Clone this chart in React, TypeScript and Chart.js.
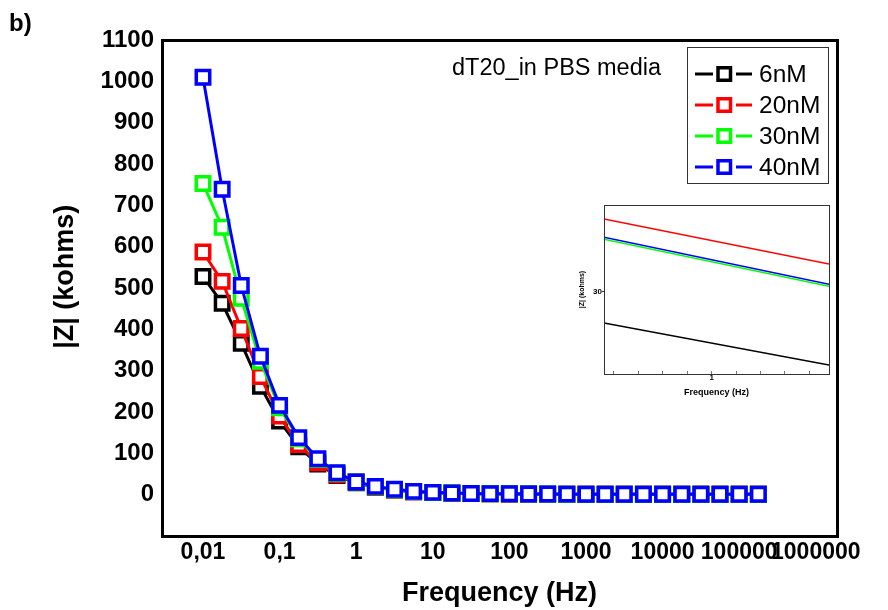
import React, { useEffect, useRef } from 'react';
import { Chart, registerables } from 'chart.js';

Chart.register(...registerables);

const FONT = '"Liberation Sans", Arial, Helvetica, sans-serif';

// ---------- main chart data ----------
const frequencies = [
  0.01, 0.0178, 0.0316, 0.0562, 0.1, 0.178, 0.316, 0.562, 1, 1.78,
  3.16, 5.62, 10, 17.8, 31.6, 56.2, 100, 178, 316, 562,
  1000, 1780, 3160, 5620, 10000, 17800, 31600, 56200, 100000, 178000,
];
const seriesLabels = ['6nM', '20nM', '30nM', '40nM'];
const seriesColors = ['#000000', '#ff0000', '#00ff00', '#0000ff'];
const z6nM = [
  528, 463, 366, 262, 178, 116, 74, 46, 28.7, 18,
  11, 7, 5, 3.5, 2.5, 2, 1.8, 1.5, 1.3, 1.2,
  1.1, 1, 1, 1, 1, 1, 1, 1, 1, 1,
];
const z20nM = [
  587, 516, 402, 286, 190, 121, 77, 48, 31.2, 18.5,
  11.5, 7, 5, 3.5, 2.5, 2, 1.8, 1.5, 1.3, 1.2,
  1.1, 1, 1, 1, 1, 1, 1, 1, 1, 1,
];
const z30nM = [
  753, 647, 475, 323, 210, 135, 85, 52, 30.7, 19,
  12, 7.5, 5, 4, 3, 2.3, 2, 1.6, 1.4, 1.2,
  1.1, 1, 1, 1, 1, 1, 1, 1, 1, 1,
];
const z40nM = [
  1010, 739, 506, 335, 216, 138, 87, 53, 30.8, 20,
  13, 8, 5.5, 4, 3, 2.5, 2, 1.7, 1.5, 1.3,
  1.2, 1.1, 1, 1, 1, 1, 1, 1, 1, 1,
];
const seriesValues = [z6nM, z20nM, z30nM, z40nM];

const xTickValues = [0.01, 0.1, 1, 10, 100, 1000, 10000, 100000, 1000000];
const xTickLabels = ['0,01', '0,1', '1', '10', '100', '1000', '10000', '100000', '1000000'];
const yTickValues = [0, 100, 200, 300, 400, 500, 600, 700, 800, 900, 1000, 1100];

const panelLabel = 'b)';
const annotationText = 'dT20_in PBS media';

// ---------- inset data ----------
const insetFreq = [0.89, 1.12];
const insetZ6 = [29.24, 28.22];
const insetZ20 = [31.76, 30.67];
const insetZ30 = [31.27, 30.13];
const insetZ40 = [31.32, 30.18];
const insetValues = [insetZ6, insetZ20, insetZ30, insetZ40];
const insetXTickValues = [0.9, 0.925, 0.95, 0.975, 1, 1.025, 1.05, 1.075, 1.1];
const insetYTickValues = [30];

const framePlugin = (width: number, color: string) => ({
  id: 'frame',
  afterDraw(chart: any) {
    const { ctx, chartArea } = chart;
    const { left, top, right, bottom } = chartArea;
    ctx.save();
    ctx.lineWidth = width;
    ctx.strokeStyle = color;
    const off = width % 2 === 1 ? 0.5 : 0;
    ctx.strokeRect(left + off, top + off, right - left, bottom - top);
    ctx.restore();
  },
});

const annotationPlugin = {
  id: 'annotations',
  afterDraw(chart: any) {
    const ctx = chart.ctx;
    ctx.save();
    ctx.fillStyle = '#000';
    ctx.font = `bold 24px ${FONT}`;
    ctx.textBaseline = 'alphabetic';
    ctx.textAlign = 'left';
    ctx.fillText(panelLabel, 9, 31);
    ctx.font = `23.5px ${FONT}`;
    ctx.textBaseline = 'middle';
    ctx.fillText(annotationText, 452, 69);

    // legend box
    const bx = 687, by = 47, bw = 141, bh = 136;
    ctx.fillStyle = '#fff';
    ctx.fillRect(bx, by, bw, bh);
    ctx.lineWidth = 1;
    ctx.strokeStyle = '#333';
    ctx.strokeRect(bx + 0.5, by + 0.5, bw, bh);
    chart.data.datasets.forEach((ds: any, i: number) => {
      const y = 74 + i * 31;
      ctx.strokeStyle = ds.borderColor;
      ctx.lineWidth = 3;
      ctx.beginPath();
      ctx.moveTo(695, y);
      ctx.lineTo(713, y);
      ctx.moveTo(736, y);
      ctx.lineTo(752, y);
      ctx.stroke();
      ctx.fillStyle = '#fff';
      ctx.fillRect(718, y - 6.25, 12.5, 12.5);
      ctx.lineWidth = 3.5;
      ctx.strokeRect(718, y - 6.25, 12.5, 12.5);
      ctx.fillStyle = '#000';
      ctx.font = `24.5px ${FONT}`;
      ctx.textBaseline = 'middle';
      ctx.fillText(ds.label, 759, y + 1);
    });
    ctx.restore();
  },
};

function MainChart() {
  const ref = useRef<HTMLCanvasElement>(null);
  useEffect(() => {
    const datasets = seriesLabels.map((label, s) => ({
      label,
      data: frequencies.map((f, i) => ({ x: f, y: seriesValues[s][i] })),
      borderColor: seriesColors[s],
      backgroundColor: seriesColors[s],
      borderWidth: 3,
      pointStyle: 'rect',
      pointRadius: 9.5,
      pointBorderWidth: 3.5,
      pointBackgroundColor: '#ffffff',
      pointBorderColor: seriesColors[s],
      tension: 0,
      order: seriesLabels.length - s,
    }));
    const chart = new Chart(ref.current as HTMLCanvasElement, {
      type: 'line',
      data: { datasets } as any,
      options: {
        responsive: false,
        animation: false,
        layout: { padding: { left: 0, top: 40, right: 51, bottom: 0 } },
        plugins: { legend: { display: false }, tooltip: { enabled: false } },
        scales: {
          x: {
            type: 'logarithmic',
            min: 0.002917,
            max: 1.892e6,
            afterBuildTicks: (s: any) => {
              s.ticks = xTickValues.map((v) => ({ value: v }));
            },
            afterFit: (s: any) => {
              s.height = 74;
            },
            grid: { display: false, drawTicks: false },
            border: { display: false },
            ticks: {
              autoSkip: false,
              maxRotation: 0,
              minRotation: 0,
              padding: 3,
              color: '#000',
              font: { family: FONT, size: 23, weight: 'bold' },
              callback: (_v: any, i: number) => xTickLabels[i],
            },
            title: {
              display: true,
              text: 'Frequency (Hz)',
              color: '#000',
              font: { family: FONT, size: 27, weight: 'bold' },
              padding: { top: 0, bottom: 0 },
            },
          },
          y: {
            type: 'linear',
            min: -100,
            max: 1100,
            afterBuildTicks: (s: any) => {
              s.ticks = yTickValues.map((v) => ({ value: v }));
            },
            afterFit: (s: any) => {
              s.width = 162;
            },
            grid: { display: false, drawTicks: false },
            border: { display: false },
            ticks: {
              padding: 8,
              color: '#000',
              font: { family: FONT, size: 24, weight: 'bold' },
              callback: (v: any) => String(v),
            },
            title: {
              display: true,
              text: '   |Z| (kohms)',
              color: '#000',
              font: { family: FONT, size: 27, weight: 'bold' },
              padding: { top: 49, bottom: 0 },
            },
          },
        },
      } as any,
      plugins: [framePlugin(3, '#000'), annotationPlugin],
    });
    return () => chart.destroy();
  }, []);
  return <canvas ref={ref} width={888} height={610} style={{ position: 'absolute', left: 0, top: 0 }} />;
}

function InsetChart() {
  const ref = useRef<HTMLCanvasElement>(null);
  useEffect(() => {
    const datasets = seriesLabels.map((label, s) => ({
      label,
      data: insetFreq.map((f, i) => ({ x: f, y: insetValues[s][i] })),
      borderColor: seriesColors[s],
      backgroundColor: seriesColors[s],
      borderWidth: 1.5,
      pointRadius: 0,
      tension: 0,
      order: seriesLabels.length - s,
    }));
    const chart = new Chart(ref.current as HTMLCanvasElement, {
      type: 'line',
      data: { datasets } as any,
      options: {
        responsive: false,
        animation: false,
        layout: { padding: { left: 0, top: 10, right: 11, bottom: 0 } },
        plugins: { legend: { display: false }, tooltip: { enabled: false } },
        scales: {
          x: {
            type: 'linear',
            min: 0.89,
            max: 1.12,
            afterBuildTicks: (s: any) => {
              s.ticks = insetXTickValues.map((v) => ({ value: v }));
            },
            afterFit: (s: any) => {
              s.height = 31;
            },
            grid: { display: true, drawOnChartArea: false, drawTicks: true, tickLength: -3, tickColor: '#777' },
            border: { display: false },
            ticks: {
              autoSkip: false,
              maxRotation: 0,
              minRotation: 0,
              padding: 2,
              color: '#000',
              font: { family: FONT, size: 8, weight: 'bold' },
              callback: (v: any) => (v === 1 ? '1' : ''),
            },
            title: {
              display: true,
              text: 'Frequency (Hz)',
              color: '#000',
              font: { family: FONT, size: 9, weight: 'bold' },
              padding: { top: 0, bottom: 7 },
            },
          },
          y: {
            type: 'linear',
            min: 28,
            max: 32.1,
            afterBuildTicks: (s: any) => {
              s.ticks = insetYTickValues.map((v) => ({ value: v }));
            },
            afterFit: (s: any) => {
              s.width = 44;
            },
            grid: { display: true, drawOnChartArea: false, drawTicks: true, tickLength: 2, tickColor: '#333' },
            border: { display: false },
            ticks: {
              padding: 0,
              color: '#000',
              font: { family: FONT, size: 8, weight: 'bold' },
              callback: (v: any) => String(v),
            },
            title: {
              display: true,
              text: '|Z| (kohms)',
              color: '#000',
              font: { family: FONT, size: 7, weight: 'bold' },
              padding: { top: 18, bottom: 0 },
            },
          },
        },
      } as any,
      plugins: [framePlugin(1, '#333')],
    });
    return () => chart.destroy();
  }, []);
  return <canvas ref={ref} width={280} height={210} style={{ position: 'absolute', left: 560, top: 195 }} />;
}

export default function App() {
  return (
    <div style={{ position: 'absolute', left: 0, top: 0, width: 888, height: 610, background: '#fff', overflow: 'hidden' }}>
      <MainChart />
      <InsetChart />
    </div>
  );
}
